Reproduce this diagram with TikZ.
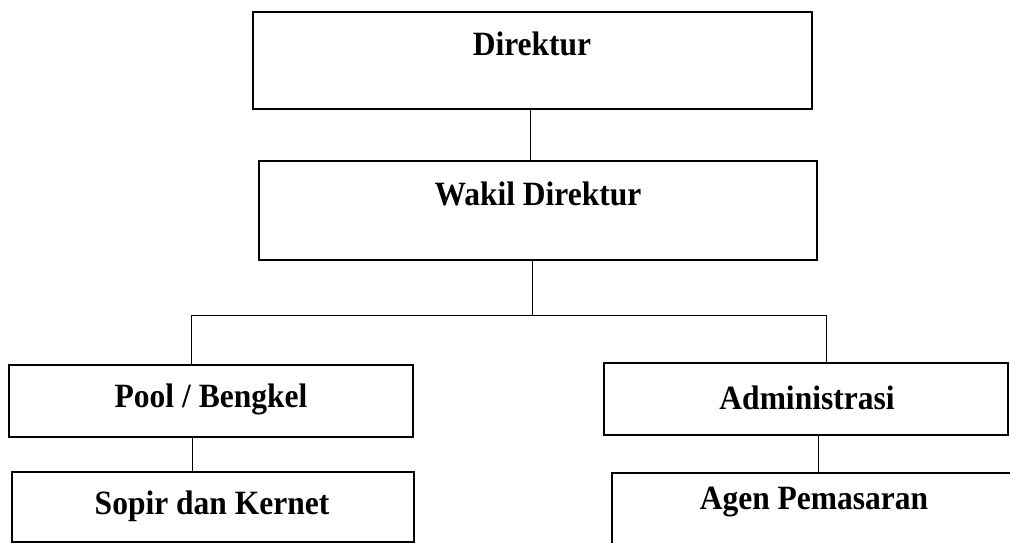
\documentclass[tikz,border=0pt]{standalone}
\usepackage{fontspec}
\setmainfont{Liberation Serif}
\newcommand{\tallbox}[1]{\scalebox{1}[1.08]{#1}}
\begin{document}
\begin{tikzpicture}[x=1pt,y=-1pt,
  box/.style={draw=black, line width=1.1pt, rectangle, inner sep=0pt},
  lbl/.style={font=\fontsize{31.5}{36}\selectfont\bfseries, inner sep=0pt, anchor=center},
  conn/.style={draw=black, line width=1pt}]
\clip (0,0) rectangle (1010,543);
\fill[white] (0,0) rectangle (1010,543);
% boxes
\node[box, minimum width=559pt, minimum height=97pt] (dir) at (532.5,60.5) {};
\node[box, minimum width=558pt, minimum height=99pt] (wak) at (538,210.5) {};
\node[box, minimum width=404pt, minimum height=72pt] (pool) at (211,401) {};
\node[box, minimum width=402pt, minimum height=70pt] (sop) at (213,507) {};
\node[box, minimum width=404pt, minimum height=72pt] (adm) at (806,399) {};
\node[box, minimum width=420pt, minimum height=90pt] (agen) at (822,518) {};
% labels
\node[lbl] (dirT) at (532,44) {\tallbox{Direktur}};
\node[lbl] (wakT) at (538,194) {\tallbox{Wakil Direktur}};
\node[lbl] (poolT) at (211,399) {\tallbox{Pool / Bengkel}};
\node[lbl] (sopT) at (212,506) {\tallbox{Sopir dan Kernet}};
\node[lbl] (admT) at (807,398) {\tallbox{Administrasi}};
\node[lbl] (agenT) at (814,502) {\tallbox{Agen Pemasaran}};
% connectors
\coordinate (c1) at (530,0);
\coordinate (c2) at (532,0);
\coordinate (hL) at (191,315);
\coordinate (hR) at (826,315);
\coordinate (c3) at (192,0);
\coordinate (c4) at (818,0);
\draw[conn] (dir.south -| c1) -- (wak.north -| c1);
\draw[conn] (wak.south -| c2) -- (hL -| c2);
\draw[conn] (pool.north -| hL) -- (hL) -- (hR) -- (adm.north -| hR);
\draw[conn] (pool.south -| c3) -- (sop.north -| c3);
\draw[conn] (adm.south -| c4) -- (agen.north -| c4);
\end{tikzpicture}
\end{document}
